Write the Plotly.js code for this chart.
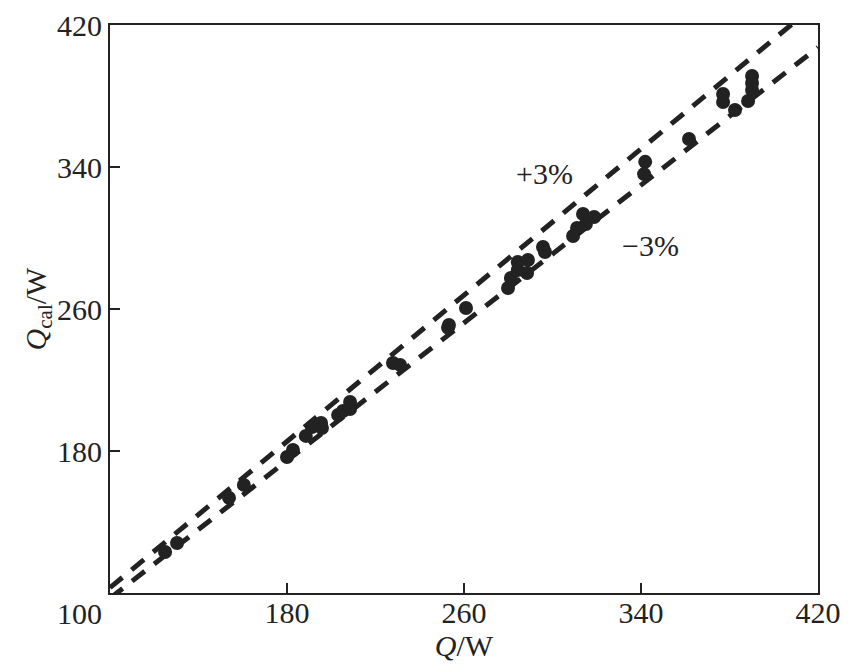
<!DOCTYPE html>
<html>
<head>
<meta charset="utf-8">
<script src="https://cdn.plot.ly/plotly-3.0.1.min.js"></script>
<style>html,body{margin:0;padding:0;background:#fff;}#chart{width:857px;height:666px;}</style>
</head>
<body>
<div id="chart"></div>
<script>
// Measured heat flow Q (W)
const qMeasured = [124.9, 130.3, 153.8, 160.5, 180.0, 182.7, 188.5, 191.3, 195.8, 195.4, 203.1, 205.3, 208.5, 208.5,
  227.9, 231.1, 252.8, 253.2, 260.9, 279.9, 281.2, 284.3, 284.3, 288.9, 288.5, 295.7, 296.6,
  309.3, 311.1, 313.8, 315.1, 318.8, 341.9, 341.4, 361.7, 377.1, 377.1, 382.5, 388.4, 390.2, 390.2, 390.2];
// Calculated heat flow Q_cal (W)
const qCalculated = [123.1, 128.2, 153.6, 160.9, 176.6, 180.6, 188.5, 193.5, 193.0, 195.8, 200.3, 202.5, 207.6, 203.6,
  229.6, 228.5, 249.4, 251.0, 260.6, 271.8, 277.5, 282.0, 286.5, 287.6, 280.3, 294.9, 292.1,
  301.1, 305.6, 313.5, 307.9, 311.8, 342.9, 336.0, 355.8, 381.1, 376.6, 372.1, 377.2, 391.3, 387.3, 383.4];
// ±3% deviation bands
const bandX = [100, 420];
const bandRatios = {plus: 1.03, minus: 0.97};
const xTicks = [100, 180, 260, 340, 420];
const yTicks = [100, 180, 260, 340, 420];
const originLabel = '100'; // shared corner label of both axes

const ink = '#222222';
const traces = [
  {x: bandX, y: bandX.map(v => v * bandRatios.plus), mode: 'lines', line: {color: ink, width: 5, dash: '16px,12px'}, hoverinfo: 'skip', showlegend: false},
  {x: bandX, y: bandX.map(v => v * bandRatios.minus), mode: 'lines', line: {color: ink, width: 5, dash: '16px,12px'}, hoverinfo: 'skip', showlegend: false},
  {x: qMeasured, y: qCalculated, mode: 'markers', marker: {color: ink, size: 14}, showlegend: false}
];
const axisFont = {family: 'Liberation Serif', size: 30, color: ink};
const shown = vals => vals.filter(v => String(v) !== originLabel);
const layout = {
  width: 857, height: 666,
  margin: {l: 110, r: 39, t: 25, b: 73},
  paper_bgcolor: '#fff', plot_bgcolor: '#fff',
  font: axisFont,
  xaxis: {range: [xTicks[0], xTicks[xTicks.length - 1]], tickvals: shown(xTicks), ticktext: shown(xTicks).map(String), ticks: 'inside', ticklen: 10, tickwidth: 2, tickcolor: ink,
    ticklabelstandoff: -8,
    showline: true, linewidth: 2, linecolor: ink, mirror: true, showgrid: false, zeroline: false, tickfont: axisFont,
    title: {text: '<i>Q</i>/W', font: axisFont, standoff: 0}},
  yaxis: {range: [yTicks[0], yTicks[yTicks.length - 1]], tickvals: shown(yTicks), ticktext: shown(yTicks).map(String), ticks: 'inside', ticklen: 10, tickwidth: 2, tickcolor: ink,
    showline: true, linewidth: 2, linecolor: ink, mirror: true, showgrid: false, zeroline: false, tickfont: axisFont,
    title: {text: '<i>Q</i><sub>cal</sub>/W', font: axisFont, standoff: 2}},
  annotations: [
    {x: 296.6, y: 336.6, text: '+3%', showarrow: false, font: axisFont},
    {x: 344.1, y: 295.5, text: '−3%', showarrow: false, font: axisFont},
    {x: xTicks[0], y: yTicks[0], text: originLabel, showarrow: false, font: axisFont,
      xanchor: 'right', yanchor: 'top', xshift: -6, yshift: -2}
  ]
};
Plotly.newPlot('chart', traces, layout, {staticPlot: true});
</script>
</body>
</html>
